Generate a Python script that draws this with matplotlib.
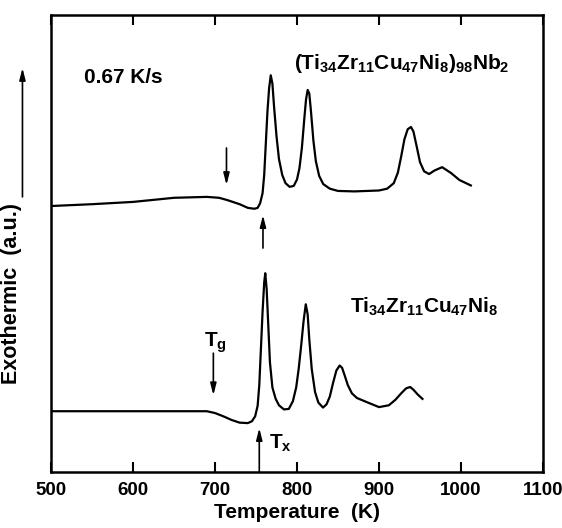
import matplotlib.pyplot as plt

plt.rcParams['font.family'] = ['Liberation Sans', 'DejaVu Sans']
plt.rcParams['font.weight'] = 'bold'
plt.rcParams['mathtext.fontset'] = 'custom'
plt.rcParams['mathtext.rm'] = 'Liberation Sans:bold'
plt.rcParams['mathtext.it'] = 'Liberation Sans:bold'
plt.rcParams['mathtext.bf'] = 'Liberation Sans:bold'

# (Ti34Zr11Cu47Ni8)98Nb2 trace
nb_T = [500, 550, 600, 650, 690, 705, 715, 730, 740, 748, 752, 755, 758, 760,
        762, 764, 766, 768, 770, 772, 775, 778, 782, 786, 791, 796, 800, 803,
        806, 809, 811, 813, 815, 817, 820, 823, 827, 832, 840, 850, 870, 900,
        910, 918, 923, 927, 931, 935, 939, 942, 946, 950, 955, 961, 968, 977,
        988, 998, 1012]
nb_y = [0.582, 0.586, 0.591, 0.600, 0.602, 0.600, 0.595, 0.586, 0.578, 0.576,
        0.578, 0.588, 0.610, 0.650, 0.720, 0.790, 0.840, 0.868, 0.850, 0.800,
        0.735, 0.685, 0.650, 0.632, 0.624, 0.626, 0.640, 0.665, 0.710, 0.775,
        0.815, 0.836, 0.828, 0.790, 0.725, 0.680, 0.648, 0.630, 0.620, 0.615,
        0.614, 0.616, 0.620, 0.632, 0.655, 0.690, 0.728, 0.750, 0.755, 0.745,
        0.712, 0.678, 0.658, 0.652, 0.660, 0.667, 0.654, 0.639, 0.627]

# Ti34Zr11Cu47Ni8 trace
ti_T = [500, 690, 700, 710, 720, 730, 740, 745, 749, 752, 754, 756, 758, 760,
        761.3, 763, 765, 767, 770, 774, 778, 784, 790, 795, 799, 802, 805,
        808, 810.7, 813, 815, 818, 822, 826, 831.7, 836, 840, 844, 848, 852,
        855, 858, 862, 867, 873, 885, 900, 912, 920, 927, 933, 938, 942, 947,
        953]
ti_y = [0.133, 0.133, 0.129, 0.122, 0.114, 0.108, 0.107, 0.111, 0.122, 0.145,
        0.190, 0.270, 0.350, 0.415, 0.435, 0.400, 0.320, 0.240, 0.185, 0.160,
        0.146, 0.137, 0.138, 0.155, 0.185, 0.225, 0.275, 0.330, 0.367, 0.345,
        0.290, 0.225, 0.175, 0.152, 0.141, 0.148, 0.165, 0.195, 0.222, 0.233,
        0.228, 0.212, 0.190, 0.172, 0.162, 0.153, 0.142, 0.146, 0.158, 0.172,
        0.183, 0.186, 0.180, 0.170, 0.160]

xticks = [500, 600, 700, 800, 900, 1000, 1100]

fig = plt.figure(figsize=(5.62, 5.28), dpi=100)
ax = fig.add_axes([51/562, 1 - 472/528, 492/562, 457/528])

ax.plot(nb_T, nb_y, color='black', lw=1.6)
ax.plot(ti_T, ti_y, color='black', lw=1.6)

ax.set_xlim(500, 1100)
ax.set_ylim(0, 1)
ax.set_xticks(xticks)
ax.set_yticks([])
ax.tick_params(axis='x', direction='in', top=True, length=7, width=1.5,
               labelsize=13.5, pad=7)
for s in ax.spines.values():
    s.set_linewidth(1.8)

ax.set_xlabel('Temperature  (K)', fontsize=15, fontweight='bold')
ax.xaxis.set_label_coords(0.5, -0.068)
ax.set_ylabel('Exothermic  (a.u.)', fontsize=15.5, fontweight='bold')
ax.yaxis.set_label_coords(-0.058, 0.39)

arw = dict(arrowstyle='-|>,head_length=0.7,head_width=0.18', color='black',
           lw=1.2, shrinkA=0, shrinkB=0)
ax.annotate('', xy=(-0.058, 0.884), xytext=(-0.058, 0.602),
            xycoords='axes fraction', arrowprops=arw, annotation_clip=False)

# onset arrows
ax.annotate('', xy=(714, 0.628), xytext=(714, 0.709), arrowprops=arw)
ax.annotate('', xy=(758.5, 0.562), xytext=(758.5, 0.490), arrowprops=arw)
ax.annotate('', xy=(698, 0.168), xytext=(698, 0.260), arrowprops=arw)
ax.annotate('', xy=(754, 0.096), xytext=(754, 0.0), arrowprops=arw)

ax.text(700, 0.282, r'$T_g$', fontsize=15, ha='center', va='center')
ax.text(780, 0.063, r'$T_x$', fontsize=15, ha='center', va='center')

ax.text(540, 0.864, '0.67 K/s', fontsize=15, ha='left', va='center')
ax.text(928, 0.893, r'$(Ti_{34}Zr_{11}Cu_{47}Ni_{8})_{98}Nb_{2}$',
        fontsize=15, ha='center', va='center')
ax.text(955, 0.362, r'$Ti_{34}Zr_{11}Cu_{47}Ni_{8}$',
        fontsize=15, ha='center', va='center')

plt.savefig('out.png', dpi=100)
